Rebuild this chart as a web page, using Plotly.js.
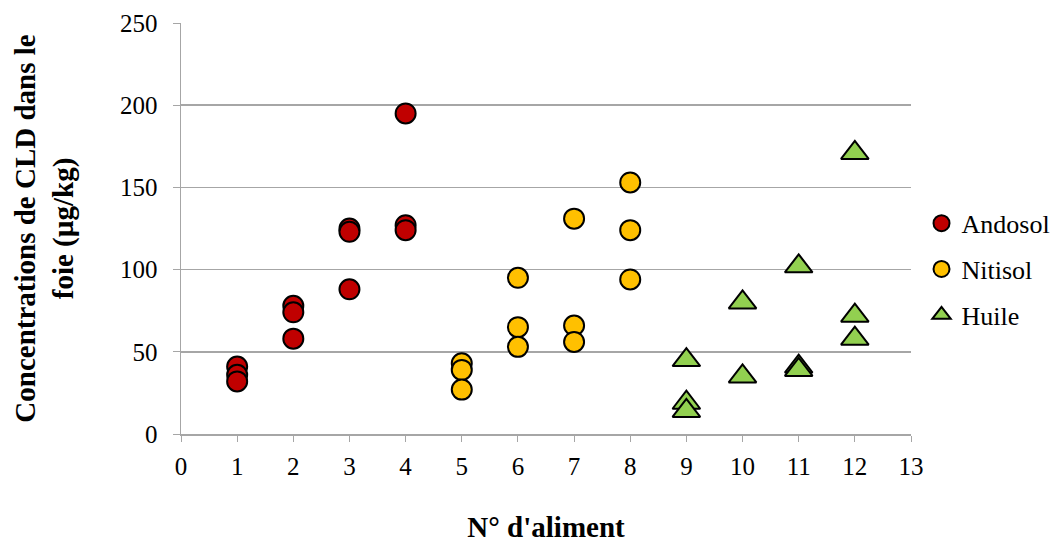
<!DOCTYPE html>
<html><head><meta charset="utf-8">
<script src="https://cdn.plot.ly/plotly-3.0.1.min.js"></script>
<style>html,body{margin:0;padding:0;background:#fff}#c{width:1058px;height:544px}</style>
</head><body><div id="c"></div>
<script>
const andosolX = [1,1,1,2,2,2,3,3,3,4,4,4];
const andosolY = [41,36,32,78,74,58,125,123,88,195,127,124];
const nitisolX = [5,5,5,6,6,6,7,7,7,8,8,8];
const nitisolY = [43,39,27,95,65,53,131,66,56,153,124,94];
const huileX = [9,9,9,10,10,11,11,11,12,12,12];
const huileY = [45,19,14,80,35,102,41,39,171,72,58];
const seriesNames = ["Andosol","Nitisol","Huile"];
const xTicks = [0,1,2,3,4,5,6,7,8,9,10,11,12,13];
const yTicks = [0,50,100,150,200,250];

const font = "'Liberation Serif','Times New Roman',serif";
function tr(x,y,name,color,symbol,size,g){
  return {x:x,y:y,name:name,type:'scatter',mode:'markers',legendgroup:g,
    marker:{color:color,symbol:symbol,size:size,line:{color:'#000',width:2}}};
}
const data = [
  tr(andosolX,andosolY,seriesNames[0],'#C00000','circle',20,'a'),
  tr(nitisolX,nitisolY,seriesNames[1],'#FFC000','circle',20,'b'),
  tr(huileX,huileY,seriesNames[2],'#92D050','triangle-up',24,'c')
];
const layout = {
  width:1058,height:544,
  margin:{l:181,r:147,t:23,b:110},
  paper_bgcolor:'#fff',plot_bgcolor:'#fff',
  font:{family:font,color:'#000',size:25},
  showlegend:true,
  legend:{xref:'container',yref:'container',x:0.871,xanchor:'left',y:0.505,yanchor:'middle',
    font:{size:26,family:font,color:'#000'},tracegroupgap:9,bgcolor:'rgba(0,0,0,0)'},
  xaxis:{range:[0,13],tickvals:xTicks,ticktext:xTicks.map(String),showgrid:false,zeroline:false,
    showline:true,linecolor:'#a6a6a6',linewidth:1.5,ticks:'outside',ticklen:6,tickcolor:'#a6a6a6',
    ticklabelstandoff:3,
    tickfont:{size:25,family:font,color:'#000'},
    title:{text:"<b>N° d'aliment</b>",font:{size:29,family:font,color:'#000'},standoff:38}},
  yaxis:{range:[0,250],tickvals:yTicks,showgrid:true,gridcolor:'#a6a6a6',gridwidth:1.5,zeroline:false,
    showline:true,linecolor:'#a6a6a6',linewidth:1.5,ticks:'outside',ticklen:7,tickcolor:'#a6a6a6',
    ticklabelstandoff:10,
    tickfont:{size:25,family:font,color:'#000'},
    title:{text:"<b>Concentrations de CLD dans le<br>foie (µg/kg)</b>",font:{size:29,family:font,color:'#000'},standoff:38}}
};
Plotly.newPlot('c',data,layout,{displayModeBar:false,staticPlot:true});
</script></body></html>
